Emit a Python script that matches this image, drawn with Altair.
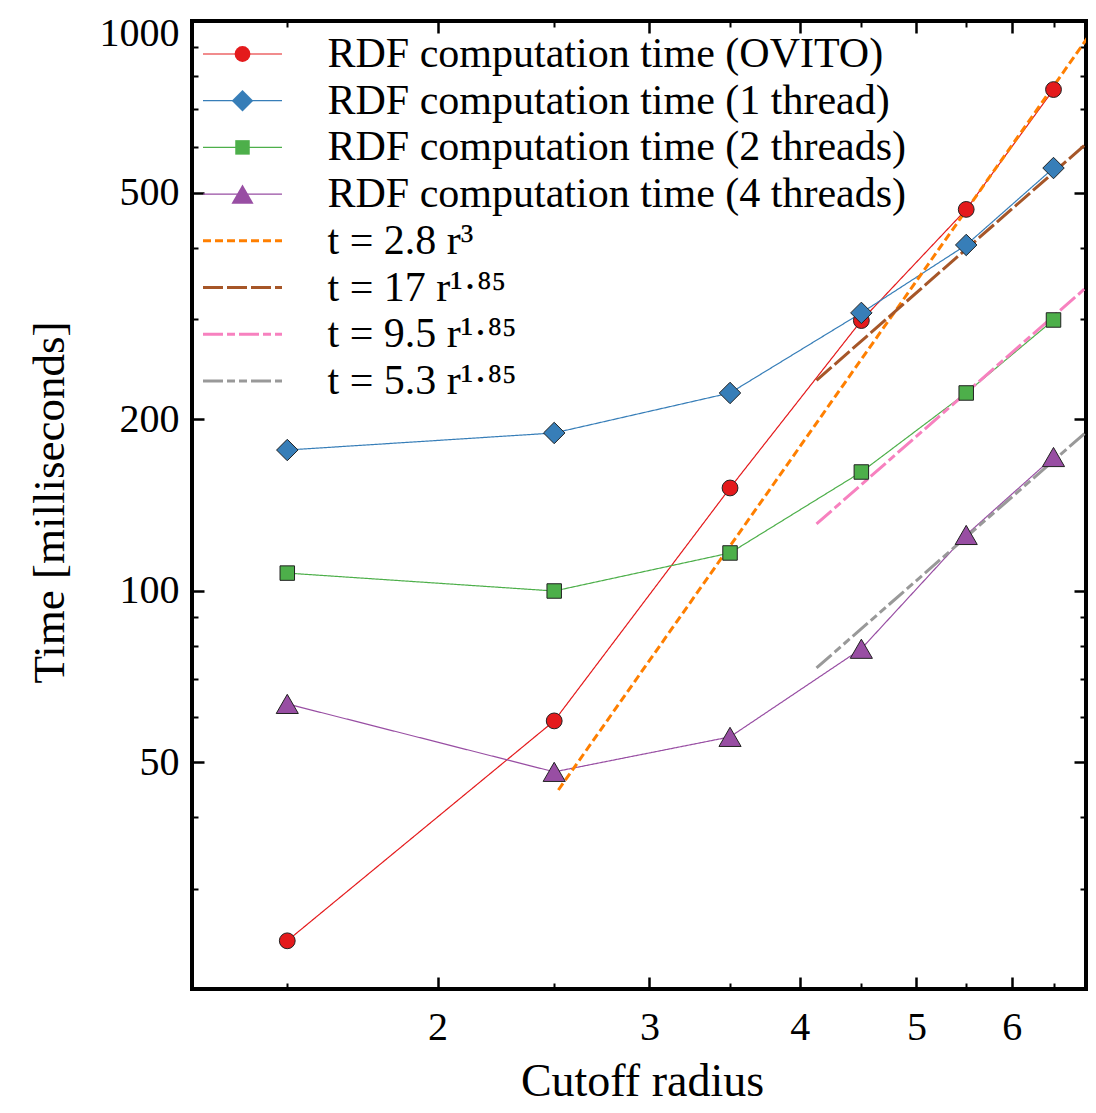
import altair as alt
import pandas as pd

# ---------------- data ----------------
radius = [1.5, 2.5, 3.5, 4.5, 5.5, 6.5]
t_ovito = [24.3, 59.1, 151.5, 298.0, 467.0, 758.0]
t_1thread = [176.6, 189.2, 222.4, 307.4, 404.5, 552.0]
t_2threads = [107.4, 99.9, 116.5, 161.6, 222.4, 298.7]
t_4threads = [63.3, 48.1, 55.4, 79.1, 125.3, 171.7]

fit_cubic_r = [2.52, 7.0]
fit_cubic_t = [44.7, 960.0]
fit_pow_r = [4.13, 7.0]
fit_17_t = [234.0, 622.0]
fit_95_t = [131.0, 348.0]
fit_53_t = [73.2, 194.0]

series_labels = [
    "RDF computation time (OVITO)",
    "RDF computation time (1 thread)",
    "RDF computation time (2 threads)",
    "RDF computation time (4 threads)",
    "t = 2.8 r\u00b3",
    "t = 17 r\u00b9\u00b7\u2078\u2075",
    "t = 9.5 r\u00b9\u00b7\u2078\u2075",
    "t = 5.3 r\u00b9\u00b7\u2078\u2075",
]
series_colors = ["#e41a1c", "#377eb8", "#4daf4a", "#984ea3",
                 "#ff7f00", "#a65628", "#f781bf", "#999999"]
series_dashes = [[1, 0], [1, 0], [1, 0], [1, 0],
                 [8, 4], [20, 4], [20, 4, 8, 4], [20, 4, 8, 4, 8, 4]]
series_widths = [1.2, 1.2, 1.2, 1.2, 3, 3, 3, 3]
marker_shapes = ["circle", "diamond", "square", "triangle-up"]
marker_sizes = [250, 460, 210, 490]

x_major = [2, 3, 4, 5, 6]
x_minor = [1.5, 2.5, 3.5, 4.5, 5.5, 6.5]
y_major = [50, 100, 200, 500, 1000]
y_minor = [30, 40, 60, 70, 80, 90, 300, 400, 600, 700, 800, 900]

# ---------------- tables ----------------
data_series = [t_ovito, t_1thread, t_2threads, t_4threads]
line_rows = []
point_rows = []
for label, ts in zip(series_labels[:4], data_series):
    for r, t in zip(radius, ts):
        line_rows.append({"series": label, "r": r, "t": t})
        point_rows.append({"series": label, "r": r, "t": t})
for label, rs, ts in [
    (series_labels[4], fit_cubic_r, fit_cubic_t),
    (series_labels[5], fit_pow_r, fit_17_t),
    (series_labels[6], fit_pow_r, fit_95_t),
    (series_labels[7], fit_pow_r, fit_53_t),
]:
    for r, t in zip(rs, ts):
        line_rows.append({"series": label, "r": r, "t": t})
line_df = pd.DataFrame(line_rows)
point_df = pd.DataFrame(point_rows)

FONT = "Liberation Serif, DejaVu Serif"
W, H = 894, 968
X_MAX = 6.917
LEG_FS = 42
ROW_PAD = 4.7
LEG_Y = 12
LABEL_X = 135.5          # start of the legend texts, from the plot's left edge

xscale = alt.Scale(type="log", domain=[1.25, X_MAX], nice=False)
yscale = alt.Scale(type="log", domain=[20, 1000], nice=False)


def xenc(axis):
    return alt.X("r:Q", scale=xscale, axis=axis)


def yenc(axis):
    return alt.Y("t:Q", scale=yscale, axis=axis)


def tick_axis(orient, values, length, width):
    return alt.Axis(orient=orient, values=values, labels=False, domain=False,
                    ticks=True, tickSize=length, tickWidth=width,
                    tickColor="black", offset=-length, title="", grid=False)


x_label_axis = alt.Axis(
    orient="bottom", values=x_major, format="d", ticks=False, tickSize=0,
    domain=False, grid=False, labelFont=FONT, labelFontSize=40,
    labelColor="black", labelPadding=18,
    title="Cutoff radius", titleFont=FONT, titleFontSize=46,
    titleFontWeight="normal", titleColor="black", titleX=450, titleY=106,
    titleBaseline="alphabetic", titleAlign="center")

y_label_axis = alt.Axis(
    orient="left", values=y_major, format="d", ticks=False, tickSize=0,
    domain=False, grid=False, labelFont=FONT, labelFontSize=40,
    labelColor="black", labelPadding=13, labelFlush=True, labelFlushOffset=8,
    title="Time [milliseconds]", titleFont=FONT, titleFontSize=45,
    titleFontWeight="normal", titleColor="black", titleX=-129, titleY=481,
    titleBaseline="alphabetic", titleAlign="center", titleAngle=270)

line_legend = alt.Legend(
    title=None, orient="none", legendX=0, legendY=LEG_Y, direction="vertical",
    padding=0, symbolType="M-4,0L4,0", symbolSize=390,
    labelFont=FONT, labelFontSize=LEG_FS, labelColor="black", labelLimit=0,
    rowPadding=ROW_PAD, symbolOffset=29.5, labelOffset=LABEL_X - LEG_FS - 29.5)

point_legend = alt.Legend(
    title=None, orient="none", legendX=0, legendY=LEG_Y, direction="vertical",
    padding=0, labelFont=FONT, labelFontSize=LEG_FS, labelColor="black",
    labelLimit=0, labelOpacity=0, rowPadding=ROW_PAD, symbolOffset=29.5,
    labelOffset=LABEL_X - LEG_FS - 29.5, symbolStrokeColor="#222222",
    symbolStrokeWidth=1, symbolOpacity=1)

lines = alt.Chart(line_df).mark_line(clip=True).encode(
    x=xenc(x_label_axis),
    y=yenc(y_label_axis),
    stroke=alt.Stroke("series:N", scale=alt.Scale(domain=series_labels, range=series_colors),
                      legend=line_legend),
    strokeDash=alt.StrokeDash("series:N", scale=alt.Scale(domain=series_labels, range=series_dashes),
                              legend=line_legend),
    strokeWidth=alt.StrokeWidth("series:N",
                                scale=alt.Scale(type="ordinal", domain=series_labels, range=series_widths),
                                legend=line_legend),
)

points = alt.Chart(point_df).mark_point(filled=True, stroke="#222222", strokeWidth=1, opacity=1).encode(
    x=xenc(tick_axis("bottom", x_major, 12, 2.5)),
    y=yenc(tick_axis("left", y_major, 12, 2.5)),
    fill=alt.Fill("series:N", scale=alt.Scale(domain=series_labels[:4], range=series_colors[:4]),
                  legend=point_legend),
    shape=alt.Shape("series:N", scale=alt.Scale(domain=series_labels[:4], range=marker_shapes),
                    legend=point_legend),
    size=alt.Size("series:N", scale=alt.Scale(type="ordinal", domain=series_labels[:4], range=marker_sizes),
                  legend=point_legend),
)

ghost = alt.Chart(point_df).mark_point(opacity=0)
g1 = ghost.encode(x=xenc(tick_axis("bottom", x_minor, 6, 2)),
                  y=yenc(tick_axis("left", y_minor, 6, 2)))
g2 = ghost.encode(x=xenc(tick_axis("top", x_major, 12, 2.5)),
                  y=yenc(tick_axis("right", y_major, 12, 2.5)))
g3 = ghost.encode(x=xenc(tick_axis("top", x_minor, 6, 2)),
                  y=yenc(tick_axis("right", y_minor, 6, 2)))

chart = alt.layer(lines, points, g1, g2, g3).resolve_scale(
    x="shared", y="shared"
).resolve_axis(
    x="independent", y="independent"
).properties(
    width=W, height=H,
    padding={"left": 184, "top": 13, "right": 2, "bottom": 116},
    autosize=alt.AutoSizeParams(type="none"),
    background="white",
).configure_view(stroke="black", strokeWidth=4)

chart.save("out.html", embed_options={"renderer": "svg", "actions": False})
